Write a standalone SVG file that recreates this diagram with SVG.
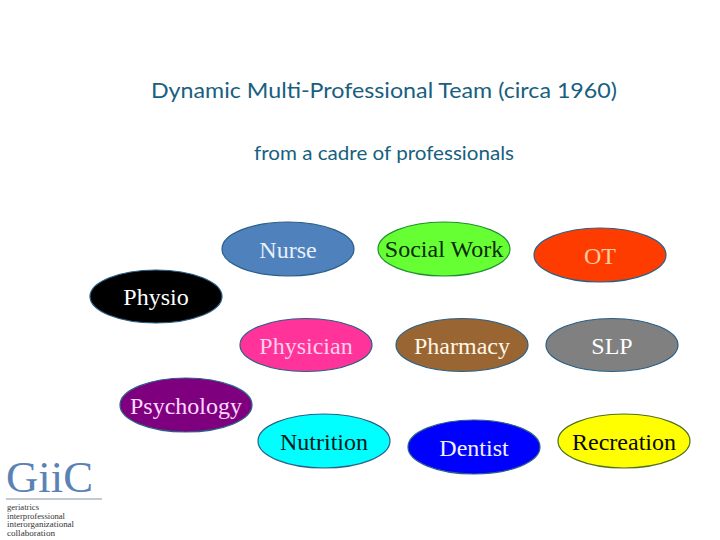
<svg xmlns="http://www.w3.org/2000/svg" width="720" height="540" viewBox="0 0 720 540">
<style>
.t{font-family:"Lato","Open Sans",sans-serif;fill:#17607f;text-anchor:middle}
.n{font-family:"Liberation Serif","Times New Roman",serif;font-size:24px;text-anchor:middle}
.e{stroke:#2a5f86;stroke-width:1.2}
.l{font-family:"Liberation Serif",serif;font-size:7.500px;fill:#333}
</style>
<rect width="720" height="540" fill="#fff"/>
<text class="t" x="384" y="97.500" font-size="22" textLength="466" lengthAdjust="spacingAndGlyphs">Dynamic Multi-Professional Team (circa 1960)</text>
<text class="t" x="384" y="159.500" font-size="20" textLength="260" lengthAdjust="spacingAndGlyphs">from a cadre of professionals</text>
<g id="nurse"><ellipse class="e" cx="288" cy="249" rx="66" ry="27" fill="#4f81bd"/><text class="n" x="288" y="258" fill="#e6f0fa">Nurse</text></g>
<g id="social-work"><ellipse class="e" cx="444" cy="249" rx="66" ry="27" fill="#66ff33" style="stroke:#1f8f30"/><text class="n" x="444" y="257" fill="#0a2a0a">Social Work</text></g>
<g id="ot"><ellipse class="e" cx="600" cy="255" rx="66" ry="27" fill="#ff3c00"/><text class="n" x="600" y="264" fill="#ffc9a0">OT</text></g>
<g id="physio"><ellipse class="e" cx="156" cy="296.500" rx="66" ry="26.500" fill="#000"/><text class="n" x="156" y="305" fill="#fff">Physio</text></g>
<g id="physician"><ellipse class="e" cx="306" cy="345" rx="66" ry="26.500" fill="#ff3399"/><text class="n" x="306" y="354" fill="#ffd0ea">Physician</text></g>
<g id="pharmacy"><ellipse class="e" cx="462" cy="345" rx="66" ry="26.500" fill="#996633"/><text class="n" x="462" y="354" fill="#fff6e6">Pharmacy</text></g>
<g id="slp"><ellipse class="e" cx="612" cy="345" rx="66" ry="26.500" fill="#808080"/><text class="n" x="612" y="354" fill="#fff">SLP</text></g>
<g id="psychology"><ellipse class="e" cx="186" cy="405" rx="66" ry="27" fill="#7f007f"/><text class="n" x="186" y="414" fill="#ffd9ff">Psychology</text></g>
<g id="nutrition"><ellipse class="e" cx="324" cy="441" rx="66" ry="27" fill="#00ffff"/><text class="n" x="324" y="450" fill="#001a1a">Nutrition</text></g>
<g id="dentist"><ellipse class="e" cx="474" cy="447" rx="66" ry="27" fill="#0000ff"/><text class="n" x="474" y="456" fill="#f0f0ff">Dentist</text></g>
<g id="recreation"><ellipse class="e" cx="624" cy="441" rx="66" ry="27" fill="#ffff00" style="stroke:#4f6f20"/><text class="n" x="624" y="450" fill="#0a0a00">Recreation</text></g>
<g id="connectors"/>
<g id="logo">
<text x="6" y="492" font-family="Liberation Serif,serif" font-size="44" fill="#5b82b5" textLength="87" lengthAdjust="spacingAndGlyphs">GiiC</text>
<rect x="6" y="498.500" width="96" height="1" fill="#8a94a0"/>
<text class="l" x="7" y="510" textLength="32" lengthAdjust="spacingAndGlyphs">geriatrics</text>
<text class="l" x="7" y="518.500" textLength="58" lengthAdjust="spacingAndGlyphs">interprofessional</text>
<text class="l" x="7" y="527" textLength="67" lengthAdjust="spacingAndGlyphs">interorganizational</text>
<text class="l" x="7" y="535.500" textLength="48" lengthAdjust="spacingAndGlyphs">collaboration</text>
</g>
</svg>
